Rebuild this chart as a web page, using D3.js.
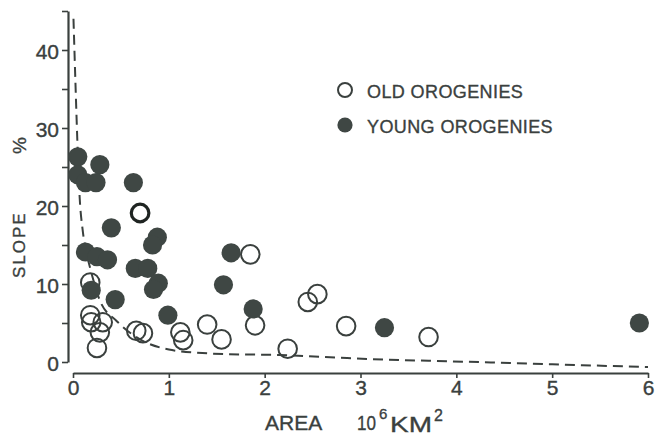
<!DOCTYPE html>
<html>
<head>
<meta charset="utf-8">
<script src="https://cdn.jsdelivr.net/npm/d3@7"></script>
<style>
  body { margin: 0; background: #fff; }
  svg { display: block; }
  text { font-family: "Liberation Sans", Arial, Helvetica, sans-serif; fill: #3a403e; stroke: #3a403e; stroke-width: 0.35px; }
</style>
</head>
<body>
<svg id="chart" width="657" height="436"></svg>
<script>
// Young orogenies (filled symbols): area in 10^6 km^2, mean slope in %
const youngArea  = [0.05, 0.28, 0.05, 0.13, 0.24, 0.63, 0.40, 0.88, 0.83, 0.13, 0.25, 0.36, 0.65, 0.78, 0.89, 0.84, 0.19, 0.44, 0.99, 1.57, 1.65, 1.88, 3.25, 5.91];
const youngSlope = [26.3, 25.3, 24.0, 23.0, 23.0, 23.0, 17.2, 16.0, 15.0, 14.1, 13.5, 13.1, 12.0, 12.0, 10.1, 9.3, 9.2, 8.0, 6.0, 9.9, 14.0, 6.8, 4.4, 5.0];

// Old orogenies (open symbols)
const oldArea  = [0.18, 0.18, 0.19, 0.31, 0.28, 0.25, 0.66, 0.73, 1.12, 1.15, 1.40, 1.55, 1.85, 1.90, 2.24, 2.45, 2.55, 2.85, 3.71];
const oldSlope = [10.2, 6.0, 5.1, 5.1, 3.8, 1.8, 4.0, 3.7, 3.8, 2.8, 4.8, 2.9, 13.8, 4.7, 1.7, 7.7, 8.7, 4.6, 3.2];

// Old orogeny drawn with a heavier outline
const oldBoldArea  = [0.70];
const oldBoldSlope = [19.1];

// Dashed lower-envelope curve
const envArea  = [0.005, 0.025, 0.045, 0.07, 0.10, 0.14, 0.18, 0.28, 0.46, 0.70, 1.00, 1.35, 1.60, 2.16, 2.86, 3.40, 3.90, 5.00, 6.00];
const envSlope = [44.0, 36.0, 28.5, 21.0, 17.0, 14.0, 12.0, 7.9, 5.2, 2.9, 1.6, 1.15, 1.0, 0.9, 0.5, 0.25, 0.1, -0.3, -0.65];

// Axis ticks
const xTicks = [0, 1, 2, 3, 4, 5, 6];
const yTicks = [0, 5, 10, 15, 20, 25, 30, 35, 40, 45];
const yTickLabels = [0, 10, 20, 30, 40];

const legendLabels = ["OLD OROGENIES", "YOUNG OROGENIES"];

const ink = "#3a403e";
const svg = d3.select("#chart");

const x = d3.scaleLinear().domain([0, 6]).range([73, 648]);
const y = d3.scaleLinear().domain([0, 45]).range([362, 11]);

// Y axis
const yAxis = svg.append("g")
  .attr("transform", "translate(68,0)")
  .call(d3.axisLeft(y).tickValues(yTicks).tickSize(6).tickSizeOuter(0).tickPadding(3)
    .tickFormat(d => yTickLabels.includes(d) ? d : ""));
// X axis (offset below the y-axis origin)
const xAxis = svg.append("g")
  .attr("transform", "translate(0,373)")
  .call(d3.axisBottom(x).tickValues(xTicks).tickSize(5).tickSizeOuter(0).tickPadding(2)
    .tickFormat(d3.format("d")));

[yAxis, xAxis].forEach(g => {
  g.select(".domain").attr("stroke", ink).attr("stroke-width", 2.2);
  g.selectAll(".tick line").attr("stroke", ink).attr("stroke-width", 1.6);
  g.selectAll(".tick text").attr("fill", ink).style("font-size", "21px")
    .style("font-family", '"Liberation Sans", Arial, sans-serif');
});
yAxis.selectAll(".tick text").attr("dy", "0.42em");

// Dashed envelope
const env = envArea.map((a, i) => [a, envSlope[i]]);
svg.append("path")
  .datum(env)
  .attr("fill", "none")
  .attr("stroke", ink)
  .attr("stroke-width", 2)
  .attr("stroke-dasharray", "10,6")
  .attr("d", d3.line().x(d => x(d[0])).y(d => y(d[1])).curve(d3.curveMonotoneX));

// Old orogenies: open circles
const oldPts = oldArea.map((a, i) => [a, oldSlope[i]]);
svg.append("g").selectAll("circle")
  .data(oldPts).join("circle")
  .attr("cx", d => x(d[0])).attr("cy", d => y(d[1])).attr("r", 9.3)
  .attr("fill", "none").attr("stroke", ink).attr("stroke-width", 2);

const oldBoldPts = oldBoldArea.map((a, i) => [a, oldBoldSlope[i]]);
svg.append("g").selectAll("circle")
  .data(oldBoldPts).join("circle")
  .attr("cx", d => x(d[0])).attr("cy", d => y(d[1])).attr("r", 8.8)
  .attr("fill", "#fff").attr("stroke", "#1f2422").attr("stroke-width", 3.2);

// Young orogenies: filled circles
const youngPts = youngArea.map((a, i) => [a, youngSlope[i]]);
svg.append("g").selectAll("circle")
  .data(youngPts).join("circle")
  .attr("cx", d => x(d[0])).attr("cy", d => y(d[1])).attr("r", 9.6)
  .attr("fill", "#3f4744");

// Legend
const legend = svg.append("g");
legend.append("circle").attr("cx", 345).attr("cy", 90).attr("r", 7)
  .attr("fill", "none").attr("stroke", ink).attr("stroke-width", 2);
legend.append("circle").attr("cx", 345).attr("cy", 125).attr("r", 7.6)
  .attr("fill", "#3f4744");
legend.selectAll("text.lg")
  .data(legendLabels).join("text")
  .attr("class", "lg")
  .attr("x", 367)
  .attr("y", (d, i) => 97.5 + i * 35)
  .style("font-size", "18px")
  .style("letter-spacing", "0.4px")
  .text(d => d);

// Y axis title
svg.append("text")
  .attr("transform", "translate(25,278) rotate(-90)")
  .style("font-size", "17px").style("letter-spacing", "2px")
  .text("SLOPE");
svg.append("text")
  .attr("transform", "translate(26,154) rotate(-90)")
  .style("font-size", "19px")
  .text("%");

// X axis title: AREA 10^6 KM^2
const xt = svg.append("g");
xt.append("text").attr("x", 265).attr("y", 430).style("font-size", "21px").text("AREA");
xt.append("text").attr("x", 357).attr("y", 430).style("font-size", "21px")
  .attr("textLength", 19).attr("lengthAdjust", "spacingAndGlyphs").text("10");
xt.append("text").attr("x", 379).attr("y", 419).style("font-size", "15px").text("6");
xt.append("text").attr("x", 390).attr("y", 432).style("font-size", "22px")
  .attr("textLength", 42).attr("lengthAdjust", "spacingAndGlyphs").text("KM");
xt.append("text").attr("x", 434).attr("y", 421).style("font-size", "16px").text("2");
</script>
</body>
</html>
